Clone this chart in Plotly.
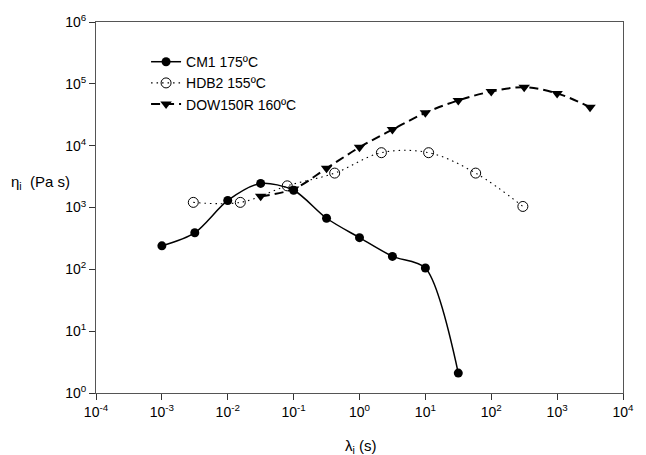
import plotly.graph_objects as go

# ---- data ----
cm1_lambda = [1e-3, 3.16e-3, 1e-2, 3.16e-2, 1e-1, 3.16e-1, 1.0, 3.16, 10.0, 31.6]
cm1_eta = [240, 390, 1300, 2450, 1900, 670, 325, 162, 105, 2.1]

hdb2_lambda = [0.003, 0.0155, 0.08, 0.42, 2.15, 11.2, 58, 302]
hdb2_eta = [1210, 1210, 2240, 3600, 7700, 7700, 3600, 1040]

dow_lambda = [0.0316, 0.1, 0.316, 1.0, 3.16, 10.0, 31.6, 100, 316, 1000, 3160]
dow_eta = [1520, 2000, 4300, 9400, 18200, 34000, 54000, 75000, 88000, 70000, 42000]

series_names = ["CM1 175ºC", "HDB2 155ºC", "DOW150R 160ºC"]
x_exponents = [-4, -3, -2, -1, 0, 1, 2, 3, 4]
y_exponents = [0, 1, 2, 3, 4, 5, 6]

FONT = "Liberation Sans, Arial, sans-serif"

fig = go.Figure()
fig.add_trace(go.Scatter(
    x=cm1_lambda, y=cm1_eta, name=series_names[0], mode="lines+markers",
    line=dict(color="black", width=1.5, shape="spline", smoothing=0.8),
    marker=dict(symbol="circle", size=9, color="black"),
))
fig.add_trace(go.Scatter(
    x=hdb2_lambda, y=hdb2_eta, name=series_names[1], mode="lines+markers",
    line=dict(color="black", width=1.1, dash="1.5px,4px", shape="spline"),
    marker=dict(symbol="circle-open", size=10, color="black", line=dict(width=1)),
))
fig.add_trace(go.Scatter(
    x=dow_lambda, y=dow_eta, name=series_names[2], mode="lines+markers",
    line=dict(color="black", width=2, dash="9px,5px", shape="spline"),
    marker=dict(symbol="triangle-down", size=10, color="black"),
))

fig.update_xaxes(
    type="log", range=[-4, 4],
    tickvals=[10.0 ** e for e in x_exponents],
    ticktext=[f"10<sup>{e}</sup>" for e in x_exponents],
    ticks="outside", ticklen=6, tickcolor="#333",
    showline=True, linecolor="#555", linewidth=1, mirror=True,
    showgrid=False, zeroline=False,
    tickfont=dict(family=FONT, size=14, color="black"),
)
fig.update_yaxes(
    type="log", range=[0, 6],
    tickvals=[10.0 ** e for e in y_exponents],
    ticktext=[f"10<sup>{e}</sup>" for e in y_exponents],
    ticks="outside", ticklen=6, tickcolor="#333",
    showline=True, linecolor="#555", linewidth=1, mirror=True,
    showgrid=False, zeroline=False,
    tickfont=dict(family=FONT, size=14, color="black"),
)

fig.add_annotation(
    text="η<sub>i</sub>  (Pa s)", xref="paper", yref="paper",
    x=-0.166, y=0.567, xanchor="left", yanchor="middle", showarrow=False,
    font=dict(family=FONT, size=15, color="black"),
)
fig.add_annotation(
    text="λ<sub>i</sub> (s)", xref="paper", yref="paper",
    x=0.503, y=-0.145, xanchor="center", yanchor="middle", showarrow=False,
    font=dict(family=FONT, size=15, color="black"),
)

fig.update_layout(
    width=646, height=455,
    margin=dict(l=96, r=13, t=19, b=62),
    paper_bgcolor="white", plot_bgcolor="white",
    font=dict(family=FONT, size=12, color="black"),
    showlegend=True,
    legend=dict(
        x=0.095, y=0.935, xanchor="left", yanchor="top",
        bgcolor="rgba(0,0,0,0)", borderwidth=0,
        font=dict(family=FONT, size=14, color="black"),
        tracegroupgap=0, itemwidth=30,
    ),
)

fig.write_html("out.html")
